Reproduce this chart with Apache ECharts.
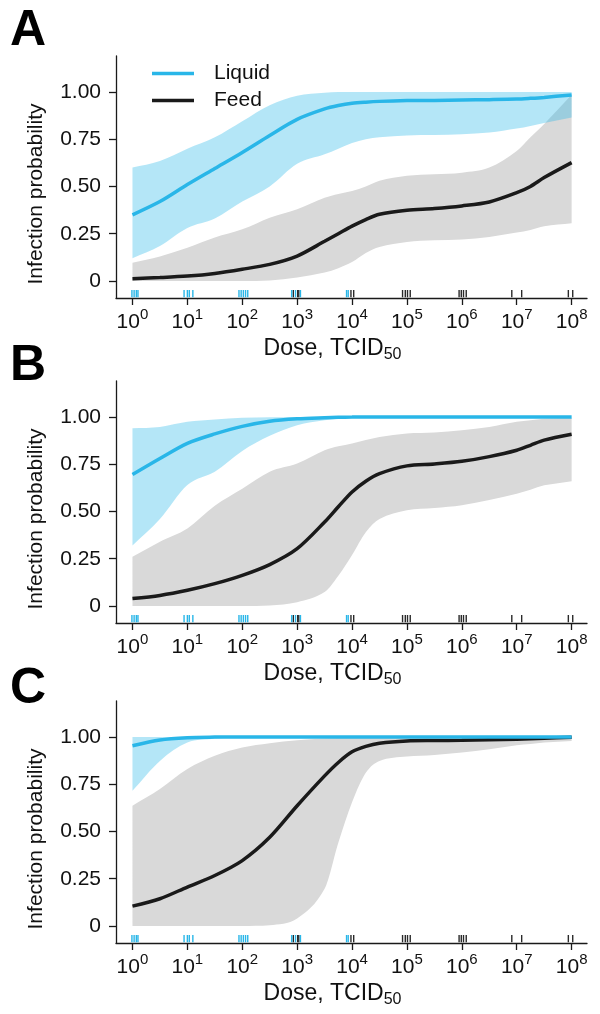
<!DOCTYPE html>
<html><head><meta charset="utf-8">
<script src="https://cdn.jsdelivr.net/npm/echarts@6/dist/echarts.min.js"></script>
<style>html,body{margin:0;padding:0;background:#fff}#c{width:600px;height:1014px}</style>
</head><body><div id="c"></div>
<script>
// log10 dose grid (x values)
const doseExp = [0, 0.5, 1, 1.5, 2, 2.5, 3, 3.5, 3.75, 4, 4.25, 4.5, 5, 5.5, 6, 6.5, 7, 7.25, 7.5, 8];
const xTicks = [0, 1, 2, 3, 4, 5, 6, 7, 8];
const yTicks = [0, 0.25, 0.5, 0.75, 1];
const yTickLabels = ['0', '0.25', '0.50', '0.75', '1.00'];
const panelLabels = ['A', 'B', 'C'];
const seriesNames = ['Liquid', 'Feed'];

// Panel A
const liquidA     = [0.35, 0.42, 0.51, 0.595, 0.68, 0.77, 0.855, 0.91, 0.928, 0.94, 0.946, 0.95, 0.954, 0.955, 0.957, 0.959, 0.962, 0.966, 0.971, 0.984];
const liquidLowA  = [0.12, 0.185, 0.28, 0.33, 0.42, 0.50, 0.62, 0.67, 0.70, 0.73, 0.75, 0.76, 0.77, 0.772, 0.776, 0.785, 0.806, 0.82, 0.835, 0.865];
const liquidHighA = [0.60, 0.635, 0.70, 0.76, 0.845, 0.93, 0.98, 0.996, 1, 1, 1, 1, 1, 1, 1, 1, 1, 1, 1, 1];
const feedA       = [0.012, 0.018, 0.026, 0.04, 0.062, 0.088, 0.132, 0.21, 0.25, 0.29, 0.325, 0.353, 0.374, 0.383, 0.397, 0.418, 0.467, 0.5, 0.547, 0.626];
const feedLowA    = [0, 0, 0, 0, 0, 0.003, 0.018, 0.045, 0.068, 0.10, 0.148, 0.18, 0.206, 0.215, 0.22, 0.233, 0.256, 0.27, 0.29, 0.305];
const feedHighA   = [0.097, 0.13, 0.176, 0.23, 0.273, 0.335, 0.38, 0.44, 0.46, 0.476, 0.50, 0.53, 0.556, 0.564, 0.573, 0.60, 0.688, 0.76, 0.83, 0.985];

// Panel B
const liquidB     = [0.695, 0.78, 0.86, 0.91, 0.95, 0.977, 0.99, 0.996, 0.998, 0.999, 1, 1, 1, 1, 1, 1, 1, 1, 1, 1];
const liquidLowB  = [0.32, 0.46, 0.64, 0.71, 0.82, 0.90, 0.956, 0.982, 0.99, 0.995, 0.998, 1, 1, 1, 1, 1, 1, 1, 1, 1];
const liquidHighB = [0.94, 0.947, 0.974, 0.986, 0.995, 0.998, 1, 1, 1, 1, 1, 1, 1, 1, 1, 1, 1, 1, 1, 1];
const feedB       = [0.039, 0.056, 0.083, 0.118, 0.162, 0.219, 0.303, 0.444, 0.525, 0.603, 0.66, 0.70, 0.741, 0.751, 0.765, 0.79, 0.824, 0.85, 0.877, 0.908];
const feedLowB    = [0, 0, 0, 0, 0, 0.003, 0.02, 0.074, 0.16, 0.27, 0.39, 0.46, 0.506, 0.518, 0.533, 0.56, 0.594, 0.615, 0.638, 0.66];
const feedHighB   = [0.26, 0.34, 0.41, 0.53, 0.62, 0.71, 0.753, 0.824, 0.845, 0.86, 0.878, 0.894, 0.912, 0.917, 0.93, 0.947, 0.974, 0.982, 0.99, 0.995];

// Panel C
const liquidC     = [0.953, 0.984, 0.996, 0.999, 1, 1, 1, 1, 1, 1, 1, 1, 1, 1, 1, 1, 1, 1, 1, 1];
const liquidLowC  = [0.715, 0.873, 0.97, 0.99, 0.998, 1, 1, 1, 1, 1, 1, 1, 1, 1, 1, 1, 1, 1, 1, 1];
const liquidHighC = [1, 1, 1, 1, 1, 1, 1, 1, 1, 1, 1, 1, 1, 1, 1, 1, 1, 1, 1, 1];
const feedC       = [0.105, 0.144, 0.206, 0.267, 0.346, 0.469, 0.636, 0.794, 0.865, 0.921, 0.95, 0.967, 0.979, 0.981, 0.982, 0.985, 0.988, 0.99, 0.993, 0.998];
const feedLowC    = [0, 0, 0, 0, 0, 0.004, 0.04, 0.197, 0.44, 0.654, 0.81, 0.873, 0.896, 0.905, 0.917, 0.935, 0.956, 0.963, 0.97, 0.979];
const feedHighC   = [0.636, 0.724, 0.83, 0.90, 0.944, 0.967, 0.982, 0.991, 0.994, 0.996, 0.998, 0.999, 1, 1, 1, 1, 1, 1, 1, 1];

// Rug: observed doses (log10)
const rugLiquid = [-0.01, 0.03, 0.07, 0.1, 0.94, 1.0, 1.035, 1.1, 1.94, 1.98, 2.02, 2.06, 2.1, 2.9, 2.97, 3.06, 3.9, 3.93];
const rugFeed = [2.93, 3.01, 3.03, 3.98, 4.03, 4.92, 4.97, 5.01, 5.06, 5.95, 5.99, 6.03, 6.08, 6.91, 7.09, 7.94, 8.02];

const panels = [
  {liq: liquidA, liqLo: liquidLowA, liqHi: liquidHighA, fd: feedA, fdLo: feedLowA, fdHi: feedHighA},
  {liq: liquidB, liqLo: liquidLowB, liqHi: liquidHighB, fd: feedB, fdLo: feedLowB, fdHi: feedHighB},
  {liq: liquidC, liqLo: liquidLowC, liqHi: liquidHighC, fd: feedC, fdLo: feedLowC, fdHi: feedHighC}
];

const BLUE = '#29b6e8';
const BLACK = '#1a1a1a';
const AX = '#1a1a1a';
const FONT = '"Liberation Sans", Arial, sans-serif';
const Y_MIN = -0.09, Y_MAX = 1.19, X_MIN = -0.3, X_MAX = 8.28;
const gridTops = [56, 381, 701];
const letterTops = [6, 341, 664];

const zip = (xs, ys) => xs.map((x, i) => [x, ys[i]]);

// smooth cubic path through pixel points (monotone-clamped control points)
function curveSegs(P) {
  const n = P.length, m = [];
  for (let i = 0; i < n; i++) {
    const a = P[Math.max(0, i - 1)], b = P[Math.min(n - 1, i + 1)];
    m.push((b[1] - a[1]) / (b[0] - a[0]));
  }
  let d = '';
  for (let i = 0; i < n - 1; i++) {
    const p = P[i], q = P[i + 1], h = (q[0] - p[0]) / 3;
    const lo = Math.min(p[1], q[1]), hi = Math.max(p[1], q[1]);
    const clamp = v => Math.max(lo, Math.min(hi, v));
    const c1 = [p[0] + h, clamp(p[1] + m[i] * h)];
    const c2 = [q[0] - h, clamp(q[1] - m[i + 1] * h)];
    d += ' C' + c1[0].toFixed(2) + ' ' + c1[1].toFixed(2) + ' ' + c2[0].toFixed(2) + ' ' + c2[1].toFixed(2) + ' ' + q[0].toFixed(2) + ' ' + q[1].toFixed(2);
  }
  return d;
}

function bandSeries(i, lo, hi, fill, nm, z) {
  return {
    name: nm, type: 'custom', xAxisIndex: i, yAxisIndex: i, silent: true, z: z,
    data: doseExp.map((x, k) => [x, lo[k], hi[k]]),
    renderItem: (params, api) => {
      if (params.dataIndex !== 0) return null;
      const up = doseExp.map((x, k) => api.coord([x, hi[k]]));
      const dn = doseExp.map((x, k) => api.coord([x, lo[k]])).reverse();
      const d = 'M' + up[0][0] + ' ' + up[0][1] + curveSegs(up) +
        ' L' + dn[0][0] + ' ' + dn[0][1] + curveSegs(dn) + ' Z';
      return {type: 'path', shape: {pathData: d}, style: {fill: fill, stroke: null}};
    }
  };
}

const grids = [], xAxes = [], yAxes = [], series = [], graphics = [];
panels.forEach((p, i) => {
  grids.push({left: 116, top: gridTops[i], width: 471, height: 242});
  xAxes.push({
    type: 'value', gridIndex: i, min: X_MIN, max: X_MAX,
    splitLine: {show: false},
    axisLine: {show: true, onZero: false, lineStyle: {color: AX, width: 1.3}},
    axisTick: {show: true, length: 7, customValues: xTicks, lineStyle: {color: AX, width: 1.3}},
    axisLabel: {
      customValues: xTicks, margin: 9, color: '#111',
      formatter: v => '{b|10}{s|' + v + '}',
      rich: {
        b: {fontSize: 21, fontFamily: FONT, color: '#111', lineHeight: 26, verticalAlign: 'bottom'},
        s: {fontSize: 15, fontFamily: FONT, color: '#111', lineHeight: 15, verticalAlign: 'top'}
      }
    },
    name: '{t|Dose, TCID}{sub|50}', nameLocation: 'middle', nameGap: 39,
    nameTextStyle: {
      padding: [0, 38, 0, 0],
      rich: {
        t: {fontSize: 23, fontFamily: FONT, color: '#111', lineHeight: 26, verticalAlign: 'top'},
        sub: {fontSize: 16, fontFamily: FONT, color: '#111', lineHeight: 26, verticalAlign: 'bottom'}
      }
    }
  });
  yAxes.push({
    type: 'value', gridIndex: i, min: Y_MIN, max: Y_MAX,
    splitLine: {show: false},
    axisLine: {show: true, onZero: false, lineStyle: {color: AX, width: 1.3}},
    axisTick: {show: true, length: 7, customValues: yTicks, lineStyle: {color: AX, width: 1.3}},
    axisLabel: {
      customValues: yTicks, margin: 15, fontSize: 21, fontFamily: FONT, color: '#111',
      formatter: v => { const k = yTicks.findIndex(t => Math.abs(t - v) < 1e-9); return k >= 0 ? yTickLabels[k] : ''; }
    },
    name: 'Infection probability', nameLocation: 'middle', nameGap: 69,
    nameTextStyle: {fontSize: 21, fontFamily: FONT, color: '#111', padding: [0, 34, 0, 0]}
  });

  series.push(bandSeries(i, p.fdLo, p.fdHi, '#d9d9d9', 'Feed band', 1));
  series.push(bandSeries(i, p.liqLo, p.liqHi, 'rgba(41,182,232,0.35)', 'Liquid band', 2));

  const common = {xAxisIndex: i, yAxisIndex: i, symbol: 'none', smooth: 0.3, silent: true};
  series.push(Object.assign({}, common, {
    name: seriesNames[1], type: 'line', color: BLACK,
    data: zip(doseExp, p.fd), lineStyle: {color: BLACK, width: 3.5}, z: 3
  }));
  series.push(Object.assign({}, common, {
    name: seriesNames[0], type: 'line', color: BLUE,
    data: zip(doseExp, p.liq), lineStyle: {color: BLUE, width: 3.5}, z: 4
  }));
  // rugs
  const rug = (vals, col, nm) => ({
    name: nm, type: 'custom', xAxisIndex: i, yAxisIndex: i, silent: true, z: 5,
    data: vals.map(v => [v, 0]),
    renderItem: (params, api) => {
      const c = api.coord([api.value(0), Y_MIN]);
      return {type: 'line', shape: {x1: c[0], y1: c[1] - 0.7, x2: c[0], y2: c[1] - 8}, style: {stroke: col, lineWidth: 1.4}};
    }
  });
  series.push(rug(rugFeed, '#2a2a2a', 'Feed doses'));
  series.push(rug(rugLiquid, BLUE, 'Liquid doses'));

  graphics.push({
    type: 'text', left: 10, top: letterTops[i],
    style: {text: panelLabels[i], font: 'bold 50px ' + FONT, fill: '#000'}
  });
});

const chart = echarts.init(document.getElementById('c'), null, {renderer: 'canvas'});
chart.setOption({
  animation: false,
  backgroundColor: '#fff',
  grid: grids, xAxis: xAxes, yAxis: yAxes, series: series, graphic: graphics,
  legend: {
    data: seriesNames, orient: 'vertical', left: 152, top: 63, padding: 0,
    icon: 'rect', itemWidth: 42, itemHeight: 3.5, itemGap: 6,
    textStyle: {fontSize: 21, fontFamily: FONT, color: '#111', lineHeight: 21, padding: [0, 0, 0, 15]},
    selectedMode: false
  }
});
</script></body></html>
